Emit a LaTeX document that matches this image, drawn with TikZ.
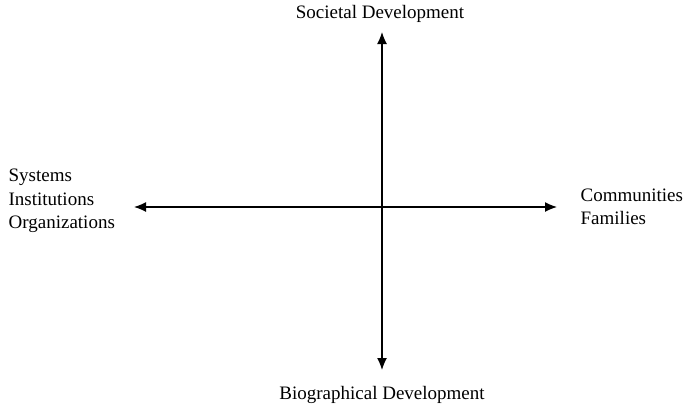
\documentclass[tikz,border=0pt]{standalone}
\usepackage{fontspec}
\setmainfont{Liberation Serif}
\usetikzlibrary{arrows.meta}
\tikzset{every node/.style={align=left, inner sep=0pt}, >={Latex[length=12pt,width=10pt]}, font=\fontsize{19}{23.5}\selectfont}

\begin{document}
\begin{tikzpicture}[x=1pt, y=-1pt, line width=1.3pt]
             \useasboundingbox (0,0) rectangle (687,408);
             \coordinate (c) at (382,207);
             \coordinate (top) at (382,32);
             \coordinate (bot) at (382,370);
             \coordinate (lft) at (134,207);
             \coordinate (rgt) at (557,207);
             \node (soc) at (380,14) {Societal Development};
             \node (bio) at (382,395) {Biographical Development};
             \node [anchor=west] (sys) at (8,201) {Systems\\Institutions\\Organizations};
             \node [anchor=west] (com) at (580,207) {Communities\\Families};

             \path[<->] (top) edge (bot)
                (lft) edge (rgt);
         \end{tikzpicture}
\end{document}
